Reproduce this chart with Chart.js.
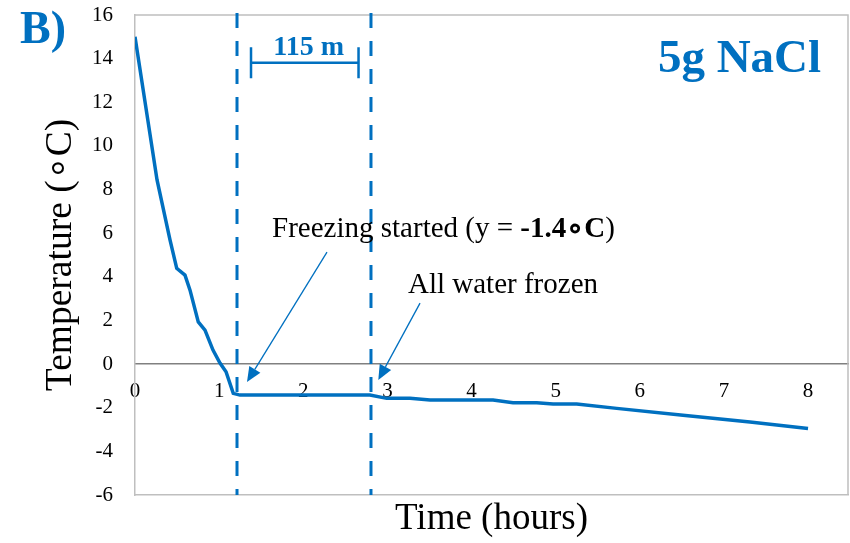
<!DOCTYPE html>
<html><head><meta charset="utf-8">
<script src="https://cdn.jsdelivr.net/npm/chart.js@4.4.1/dist/chart.umd.min.js"></script>
<style>html,body{margin:0;padding:0;background:#fff}canvas{display:block}</style>
</head><body>
<canvas id="c" width="850" height="543"></canvas>
<script>
// ---- data ----
const timeHours = [0, 0.262, 0.416, 0.496, 0.594, 0.654, 0.752, 0.832, 0.927, 1.010, 1.082, 1.168, 1.248, 2.793, 2.992, 3.269, 3.507, 4.256, 4.493, 4.775, 4.969, 5.250, 5.726, 6.514, 7.310, 8.0];
const tempC     = [15.0, 8.44, 5.69, 4.39, 4.08, 3.39, 1.93, 1.56, 0.64, 0.05, -0.35, -1.34, -1.42, -1.42, -1.57, -1.57, -1.65, -1.65, -1.77, -1.77, -1.83, -1.83, -2.03, -2.34, -2.65, -2.95];
const xTickValues = [0, 1, 2, 3, 4, 5, 6, 7, 8];
const yTickValues = [-6, -4, -2, 0, 2, 4, 6, 8, 10, 12, 14, 16];
const xRange = [0, 8.475];
const yRange = [-6, 16];

// event markers (hours) and labels
const eventTimes = [1.2125, 2.805];
const freezingTemp = -1.4;
const panelLabel = 'B)';
const saltLabel = '5g NaCl';
const durationLabel = '115 m';
const freezeLabelParts = ['Freezing started (y = ', '-1.4\u2218C', ')'];
const frozenLabel = 'All water frozen';
const xTitle = 'Time (hours)';
const yTitle = 'Temperature (\u2218C)';

// annotation anchors in data units
const bracketSpan = [1.379, 2.657], bracketY = 13.81, bracketHalf = 0.71;
const durationAt = [2.065, 14.17];
const saltAt = [8.155, 13.39];
const panelAt = [-1.367, 14.72];
const freezeTextAt = [1.629, 5.82];
const frozenTextAt = [3.245, 3.27];
const arrowFreeze = [[2.282, 5.135], [1.331, -0.825]];
const arrowFrozen = [[3.388, 2.797], [2.892, -0.734]];

const BLUE = '#0070C0';
const SERIF = '"Liberation Serif", "Times New Roman", serif';

const annotations = {
  id: 'annotations',
  afterDraw(chart) {
    const ctx = chart.ctx, xs = chart.scales.x, ys = chart.scales.y, a = chart.chartArea;
    const px = v => xs.getPixelForValue(v), py = v => ys.getPixelForValue(v);
    ctx.save();
    // top and right frame
    ctx.strokeStyle = '#BFBFBF'; ctx.lineWidth = 1.5;
    ctx.beginPath();
    ctx.moveTo(a.left, a.top); ctx.lineTo(a.right, a.top); ctx.lineTo(a.right, a.bottom);
    ctx.stroke();
    // dashed event lines
    ctx.strokeStyle = BLUE; ctx.lineWidth = 3; ctx.setLineDash([15, 13]);
    eventTimes.forEach(t => {
      ctx.beginPath(); ctx.moveTo(px(t), a.top - 2); ctx.lineTo(px(t), a.bottom); ctx.stroke();
    });
    ctx.setLineDash([]);
    // bracket
    ctx.lineWidth = 2.5;
    const bx0 = px(bracketSpan[0]), bx1 = px(bracketSpan[1]), by = py(bracketY);
    const bt = py(bracketY + bracketHalf), bb = py(bracketY - bracketHalf);
    ctx.beginPath();
    ctx.moveTo(bx0, by); ctx.lineTo(bx1, by);
    ctx.moveTo(bx0, bt); ctx.lineTo(bx0, bb);
    ctx.moveTo(bx1, bt); ctx.lineTo(bx1, bb);
    ctx.stroke();
    // blue bold texts
    ctx.fillStyle = BLUE; ctx.textBaseline = 'alphabetic';
    ctx.font = 'bold 28px ' + SERIF; ctx.textAlign = 'center';
    ctx.fillText(durationLabel, px(durationAt[0]), py(durationAt[1]));
    ctx.font = 'bold 47px ' + SERIF; ctx.textAlign = 'right';
    ctx.fillText(saltLabel, px(saltAt[0]), py(saltAt[1]));
    ctx.font = 'bold 46px ' + SERIF; ctx.textAlign = 'left';
    ctx.fillText(panelLabel, px(panelAt[0]), py(panelAt[1]));
    // black annotation texts
    ctx.fillStyle = '#000';
    let x = px(freezeTextAt[0]); const y = py(freezeTextAt[1]);
    freezeLabelParts.forEach((s, i) => {
      ctx.font = (i === 1 ? 'bold ' : '') + '29px ' + SERIF;
      ctx.fillText(s, x, y);
      x += ctx.measureText(s).width;
    });
    ctx.font = '29px ' + SERIF;
    ctx.fillText(frozenLabel, px(frozenTextAt[0]), py(frozenTextAt[1]));
    // arrows
    const arrow = (p0, p1) => {
      const x0 = px(p0[0]), y0 = py(p0[1]), x1 = px(p1[0]), y1 = py(p1[1]);
      const ang = Math.atan2(y1 - y0, x1 - x0), L = 15, W = 6.5;
      const bxm = x1 - L * Math.cos(ang), bym = y1 - L * Math.sin(ang);
      ctx.strokeStyle = BLUE; ctx.fillStyle = BLUE; ctx.lineWidth = 1.3;
      ctx.beginPath(); ctx.moveTo(x0, y0); ctx.lineTo(bxm, bym); ctx.stroke();
      ctx.beginPath();
      ctx.moveTo(x1, y1);
      ctx.lineTo(bxm + W * Math.sin(ang), bym - W * Math.cos(ang));
      ctx.lineTo(bxm - W * Math.sin(ang), bym + W * Math.cos(ang));
      ctx.closePath(); ctx.fill();
    };
    arrow(arrowFreeze[0], arrowFreeze[1]);
    arrow(arrowFrozen[0], arrowFrozen[1]);
    ctx.restore();
  }
};

new Chart(document.getElementById('c'), {
  type: 'line',
  data: {
    datasets: [{
      data: timeHours.map((t, i) => ({ x: t, y: tempC[i] })),
      borderColor: BLUE, borderWidth: 3.5, pointRadius: 0, tension: 0, fill: false,
      xAxisID: 'x', yAxisID: 'y'
    }]
  },
  options: {
    responsive: false, animation: false, devicePixelRatio: 1,
    layout: { padding: { top: 15, right: 2, left: 0, bottom: 0 } },
    plugins: { legend: { display: false }, tooltip: { enabled: false } },
    scales: {
      x: {
        type: 'linear', position: { y: 0 }, min: xRange[0], max: xRange[1],
        afterBuildTicks: s => { s.ticks = xTickValues.map(v => ({ value: v })); },
        grid: { display: false, drawTicks: false },
        border: { display: true, color: '#808080', width: 1.5 },
        ticks: { color: '#000', font: { family: SERIF, size: 21 }, padding: 15, maxRotation: 0, autoSkip: false },
        afterFit: s => { s.paddingLeft = 0; s.paddingRight = 0; }
      },
      x2: {
        type: 'linear', position: 'bottom', min: xRange[0], max: xRange[1],
        grid: { display: false, drawTicks: false },
        border: { display: true, color: '#BFBFBF', width: 1.5 },
        ticks: { display: false },
        title: { display: true, text: xTitle, color: '#000', font: { family: SERIF, size: 37 }, padding: { top: 0, bottom: 2 } },
        afterFit: s => { s.height = 48; s.paddingLeft = 0; s.paddingRight = 0; }
      },
      y: {
        type: 'linear', position: 'left', min: yRange[0], max: yRange[1],
        afterBuildTicks: s => { s.ticks = yTickValues.map(v => ({ value: v })); },
        grid: { display: false, drawTicks: false },
        border: { display: true, color: '#BFBFBF', width: 1.5 },
        ticks: { color: '#000', font: { family: SERIF, size: 21 }, padding: 22 },
        title: { display: true, text: yTitle, color: '#000', font: { family: SERIF, size: 37.5 }, padding: { top: 39, bottom: 0 } },
        afterFit: s => { s.width = 135; s.paddingTop = 0; s.paddingBottom = 0; }
      }
    }
  },
  plugins: [annotations]
});
</script>
</body></html>
